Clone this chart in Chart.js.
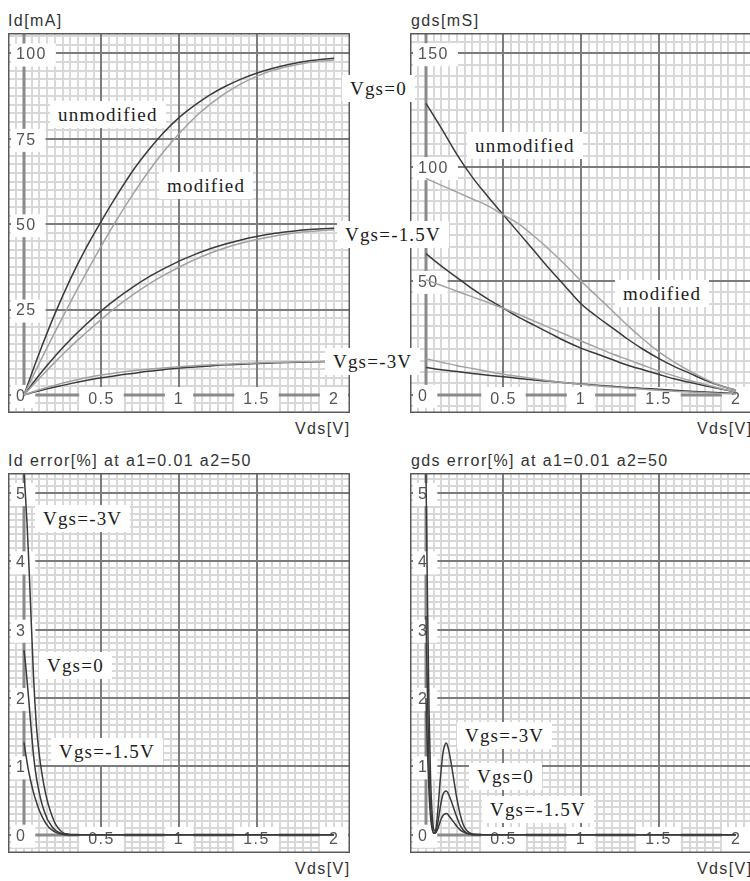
<!DOCTYPE html>
<html>
<head>
<meta charset="utf-8">
<script src="https://cdn.jsdelivr.net/npm/chart.js@4/dist/chart.umd.min.js"></script>
<style>
  html, body { margin: 0; padding: 0; background: #fff; overflow: hidden; width: 750px; height: 881px; }
  .panel { position: absolute; }
  .title { position: absolute; font: 16px "Liberation Sans", Arial, sans-serif; letter-spacing: 1.4px; line-height: 20px; color: #333; white-space: nowrap; }
  .note { position: absolute; font: 19px "Liberation Serif", "Times New Roman", serif; letter-spacing: 1.2px; line-height: 27px; padding: 0 8px; background: #fff; color: #1c1c1c; white-space: nowrap; z-index: 5; }
</style>
</head>
<body>
<canvas id="cId" class="panel" width="342" height="380" style="left:8px;top:33px"></canvas>
<canvas id="cGds" class="panel" width="342" height="380" style="left:410px;top:33px"></canvas>
<canvas id="cIdErr" class="panel" width="342" height="380" style="left:8px;top:473px"></canvas>
<canvas id="cGdsErr" class="panel" width="342" height="380" style="left:410px;top:473px"></canvas>

<div class="title" style="left:8px;top:11px">Id[mA]</div>
<div class="title" style="left:411px;top:11px">gds[mS]</div>
<div class="title" style="left:295px;top:419px">Vds[V]</div>
<div class="title" style="left:697px;top:419px">Vds[V]</div>
<div class="title" style="left:8px;top:451px">Id error[%] at a1=0.01 a2=50</div>
<div class="title" style="left:411px;top:451px">gds error[%] at a1=0.01 a2=50</div>
<div class="title" style="left:295px;top:859px">Vds[V]</div>
<div class="title" style="left:697px;top:859px">Vds[V]</div>

<div class="note" style="left:50px;top:101px">unmodified</div>
<div class="note" style="left:159px;top:172px">modified</div>
<div class="note" style="left:342px;top:75px">Vgs=0</div>
<div class="note" style="left:337px;top:221px">Vgs=-1.5V</div>
<div class="note" style="left:325px;top:348px">Vgs=-3V</div>
<div class="note" style="left:467px;top:132px">unmodified</div>
<div class="note" style="left:615px;top:280px">modified</div>
<div class="note" style="left:35px;top:505px">Vgs=-3V</div>
<div class="note" style="left:39px;top:652px">Vgs=0</div>
<div class="note" style="left:51px;top:738px">Vgs=-1.5V</div>
<div class="note" style="left:457px;top:722px">Vgs=-3V</div>
<div class="note" style="left:469px;top:763px">Vgs=0</div>
<div class="note" style="left:482px;top:796px">Vgs=-1.5V</div>

<script>
// Drain voltage sweep [V] for the Id and gds curves
const vds = [0, 0.1, 0.2, 0.3, 0.4, 0.5, 0.6, 0.7, 0.8, 0.9, 1.0, 1.1, 1.2, 1.3, 1.4, 1.5, 1.6, 1.7, 1.8, 1.9, 2.0];

// Drain current Id [mA]
const idUnmodVgs0   = [0, 12.4, 23.8, 34, 43, 51, 58.5, 65.5, 71.5, 76.8, 81.2, 84.8, 87.9, 90.4, 92.5, 94.2, 95.6, 96.7, 97.6, 98.2, 98.6];
const idModVgs0     = [0, 9.4, 18.4, 27.2, 35.6, 43.7, 51.4, 58.6, 65.2, 71.2, 76.5, 81.2, 85.1, 88.4, 91.1, 93.3, 95, 96.2, 97.1, 97.7, 98.1];
const idUnmodVgs15  = [0, 5.9, 11.3, 16.2, 20.6, 24.7, 28.3, 31.5, 34.4, 36.9, 39.2, 41.1, 42.8, 44.2, 45.4, 46.4, 47.2, 47.8, 48.3, 48.6, 48.8];
const idModVgs15    = [0, 4.9, 9.6, 14.1, 18.2, 22.2, 25.9, 29.2, 32.3, 35, 37.4, 39.6, 41.5, 43.1, 44.4, 45.5, 46.4, 47.1, 47.7, 48.1, 48.4];
const idUnmodVgs3   = [0, 1.2, 2.3, 3.3, 4.2, 5.0, 5.7, 6.3, 6.9, 7.4, 7.9, 8.2, 8.5, 8.8, 9.0, 9.2, 9.35, 9.5, 9.6, 9.7, 9.8];
const idModVgs3     = [0, 1.5, 2.85, 4.0, 5.0, 5.8, 6.5, 7.05, 7.5, 7.9, 8.25, 8.55, 8.8, 9.0, 9.2, 9.35, 9.5, 9.6, 9.7, 9.75, 9.8];

// Output conductance gds [mS]
const gdsUnmodVgs0  = [128, 117, 105.5, 95.5, 87, 79, 71, 63, 55, 47.5, 40, 34.5, 29.5, 24.5, 20, 16, 12.5, 9.5, 6.5, 4, 2];
const gdsModVgs0    = [95, 92, 89, 86, 83, 79, 75, 69.5, 63.5, 57, 50, 43.5, 37, 30.5, 24.5, 19, 14.5, 10.5, 7, 4, 2];
const gdsUnmodVgs15 = [62, 56.5, 51.5, 46.5, 42, 38, 34, 30.5, 27, 23.5, 20.5, 18, 15.5, 13, 11, 9, 7, 5.5, 4, 2.5, 1.3];
const gdsModVgs15   = [50.5, 48, 45.5, 43, 40.5, 38, 35.2, 32.3, 29.4, 26.5, 23.6, 20.8, 18, 15.5, 13, 10.5, 8.3, 6.3, 4.5, 2.8, 1.3];
const gdsUnmodVgs3  = [12, 11, 10.2, 9.4, 8.6, 7.9, 7.2, 6.5, 5.9, 5.3, 4.7, 4.2, 3.7, 3.2, 2.8, 2.4, 2, 1.6, 1.2, 0.9, 0.6];
const gdsModVgs3    = [15.8, 14.3, 12.8, 11.5, 10.2, 9, 8, 7, 6.1, 5.3, 4.6, 4, 3.4, 2.9, 2.4, 2, 1.6, 1.2, 0.9, 0.6, 0.4];

// Finer sweep [V] for the error curves
const errVds = [0, 0.01, 0.02, 0.03, 0.04, 0.05, 0.06, 0.07, 0.08, 0.09, 0.10, 0.11, 0.12, 0.13, 0.14, 0.15, 0.16,
                0.18, 0.20, 0.22, 0.24, 0.26, 0.28, 0.30, 0.4, 0.6, 0.8, 1.0, 1.2, 1.4, 1.6, 1.8, 2.0];

// Id error [%]
const idErrVgs3  = [5.3, 4.95, 4.55, 4.05, 3.5, 2.95, 2.4, 1.95, 1.6, 1.35, 1.15, 0.98, 0.84, 0.71, 0.6, 0.5, 0.42,
                    0.28, 0.17, 0.1, 0.05, 0.02, 0.01, 0, 0, 0, 0, 0, 0, 0, 0, 0, 0];
const idErrVgs0  = [2.7, 2.5, 2.25, 2.0, 1.72, 1.45, 1.2, 1.0, 0.84, 0.71, 0.6, 0.5, 0.42, 0.35, 0.29, 0.23, 0.19,
                    0.12, 0.07, 0.04, 0.02, 0.01, 0, 0, 0, 0, 0, 0, 0, 0, 0, 0, 0];
const idErrVgs15 = [1.35, 1.2, 1.06, 0.93, 0.82, 0.72, 0.63, 0.55, 0.48, 0.41, 0.35, 0.3, 0.25, 0.21, 0.17, 0.14, 0.11,
                    0.07, 0.04, 0.02, 0.01, 0, 0, 0, 0, 0, 0, 0, 0, 0, 0, 0, 0];

// gds error [%]
const gdsErrVgs3  = [5.3, 3.4, 1.8, 0.8, 0.3, 0.08, 0.05, 0.2, 0.45, 0.75, 1.0, 1.2, 1.3, 1.34, 1.3, 1.2, 1.08,
                     0.8, 0.52, 0.3, 0.15, 0.07, 0.03, 0.01, 0, 0, 0, 0, 0, 0, 0, 0, 0];
const gdsErrVgs0  = [3.2, 2.0, 1.0, 0.4, 0.12, 0.03, 0.03, 0.1, 0.22, 0.37, 0.5, 0.59, 0.63, 0.64, 0.62, 0.57, 0.51,
                     0.38, 0.25, 0.14, 0.07, 0.03, 0.01, 0, 0, 0, 0, 0, 0, 0, 0, 0, 0];
const gdsErrVgs15 = [2.0, 1.2, 0.6, 0.25, 0.08, 0.02, 0.02, 0.05, 0.11, 0.18, 0.24, 0.28, 0.3, 0.31, 0.3, 0.27, 0.24,
                     0.18, 0.12, 0.07, 0.04, 0.02, 0.01, 0, 0, 0, 0, 0, 0, 0, 0, 0, 0];

// Tick labels
const vdsTicks    = [0.5, 1, 1.5, 2];
const idTicks     = [0, 25, 50, 75, 100];
const gdsTicks    = [0, 50, 100, 150];
const errTicks    = [0, 1, 2, 3, 4, 5];

const DARK = '#3a3a3a';
const LIGHT = '#a2a2a2';
const MAJOR = '#7c7c7c';
const MINOR = '#d8d8d8';
const AXIS = '#8a8a8a';
const TICK_FONT = '16px "Liberation Sans", Arial, sans-serif';

function pts(xs, ys) { return xs.map((x, i) => ({ x: x, y: ys[i] })); }

function curve(xs, ys, color) {
  return {
    data: pts(xs, ys),
    borderColor: color,
    borderWidth: 1.5,
    pointRadius: 0,
    fill: false,
    cubicInterpolationMode: 'monotone'
  };
}

// Paper-style grid, axes through the origin, boxed tick labels and frame
const panelDecor = {
  id: 'panelDecor',
  beforeDraw(chart, args, o) {
    const { ctx, chartArea: a, scales: { x, y } } = chart;
    ctx.save();
    ctx.fillStyle = '#fff';
    ctx.fillRect(a.left, a.top, a.right - a.left, a.bottom - a.top);
    ctx.strokeStyle = MINOR;
    ctx.lineWidth = 2;
    ctx.beginPath();
    for (let i = Math.ceil(x.min / o.xMinor); i * o.xMinor <= x.max; i++) {
      const px = Math.round(x.getPixelForValue(i * o.xMinor));
      ctx.moveTo(px, a.top); ctx.lineTo(px, a.bottom);
    }
    for (let i = Math.ceil(y.min / o.yMinor); i * o.yMinor <= y.max; i++) {
      const py = Math.round(y.getPixelForValue(i * o.yMinor));
      ctx.moveTo(a.left, py); ctx.lineTo(a.right, py);
    }
    ctx.stroke();
    ctx.restore();
  },
  beforeDatasetsDraw(chart, args, o) {
    const { ctx, chartArea: a, scales: { x, y } } = chart;
    const x0 = Math.round(x.getPixelForValue(0));
    const y0 = Math.round(y.getPixelForValue(0));
    ctx.save();
    // axes
    ctx.strokeStyle = AXIS;
    ctx.lineWidth = 3;
    ctx.beginPath();
    ctx.moveTo(x0, y0); ctx.lineTo(x0, a.top);
    ctx.moveTo(x0, y0); ctx.lineTo(a.right, y0);
    ctx.stroke();
    // tick labels on white boxes
    ctx.font = TICK_FONT;
    ctx.letterSpacing = '1.4px';
    ctx.textBaseline = 'middle';
    for (const v of o.yTicks) {
      const py = y.getPixelForValue(v) + 1.5;
      const label = String(v);
      const w = ctx.measureText(label).width;
      const tl = x0 - 8;
      ctx.fillStyle = '#fff';
      ctx.fillRect(tl - 5, py - 11.5, w + 14, 23);
      ctx.fillStyle = '#555';
      ctx.textAlign = 'left';
      ctx.fillText(label, tl, py);
    }
    for (const v of o.xTicks) {
      const px = x.getPixelForValue(v);
      const py = y0 + 5;
      const label = String(v);
      const w = ctx.measureText(label).width;
      ctx.fillStyle = '#fff';
      ctx.fillRect(px - w / 2 - 9, y0 - 8, w + 18, 26);
      ctx.fillStyle = '#555';
      ctx.textAlign = 'center';
      ctx.fillText(label, px, py);
    }
    ctx.restore();
  },
  afterDraw(chart) {
    const { ctx, chartArea: a } = chart;
    ctx.save();
    ctx.strokeStyle = '#5a5a5a';
    ctx.lineWidth = 1.5;
    ctx.strokeRect(a.left + 0.75, a.top + 0.75, a.right - a.left - 1.5, a.bottom - a.top - 1.5);
    ctx.restore();
  }
};

function majorColor(step) {
  return (c) => {
    const v = c.tick ? c.tick.value : NaN;
    const k = v / step;
    return Math.abs(k - Math.round(k)) < 1e-6 ? MAJOR : 'rgba(0,0,0,0)';
  };
}

function makePanel(id, datasets, yRange, yMajor, yMinor, yTicks) {
  return new Chart(document.getElementById(id), {
    type: 'line',
    data: { datasets: datasets },
    options: {
      responsive: false,
      animation: false,
      devicePixelRatio: 1,
      events: [],
      layout: { padding: 0 },
      plugins: {
        legend: { display: false },
        tooltip: { enabled: false },
        panelDecor: { xMinor: 0.05, yMinor: yMinor, xTicks: vdsTicks, yTicks: yTicks }
      },
      scales: {
        x: {
          type: 'linear', min: -0.103, max: 2.103,
          ticks: { display: false, stepSize: 0.5 },
          grid: { drawTicks: false, lineWidth: 2, color: majorColor(0.5) },
          border: { display: false }
        },
        y: {
          type: 'linear', min: yRange[0], max: yRange[1],
          ticks: { display: false, stepSize: yMajor },
          grid: { drawTicks: false, lineWidth: 2, color: majorColor(yMajor) },
          border: { display: false }
        }
      }
    },
    plugins: [panelDecor]
  });
}

makePanel('cId', [
  curve(vds, idModVgs0, LIGHT), curve(vds, idModVgs15, LIGHT), curve(vds, idModVgs3, LIGHT),
  curve(vds, idUnmodVgs0, DARK), curve(vds, idUnmodVgs15, DARK), curve(vds, idUnmodVgs3, DARK)
], [-5.3, 106], 25, 2.5, idTicks);

makePanel('cGds', [
  curve(vds, gdsModVgs0, LIGHT), curve(vds, gdsModVgs15, LIGHT), curve(vds, gdsModVgs3, LIGHT),
  curve(vds, gdsUnmodVgs0, DARK), curve(vds, gdsUnmodVgs15, DARK), curve(vds, gdsUnmodVgs3, DARK)
], [-8.0, 158.9], 50, 5, gdsTicks);

makePanel('cIdErr', [
  curve(errVds, idErrVgs3, DARK), curve(errVds, idErrVgs0, DARK), curve(errVds, idErrVgs15, DARK)
], [-0.268, 5.293], 1, 0.1, errTicks);

makePanel('cGdsErr', [
  curve(errVds, gdsErrVgs3, DARK), curve(errVds, gdsErrVgs0, DARK), curve(errVds, gdsErrVgs15, DARK)
], [-0.268, 5.293], 1, 0.1, errTicks);
</script>
</body>
</html>
